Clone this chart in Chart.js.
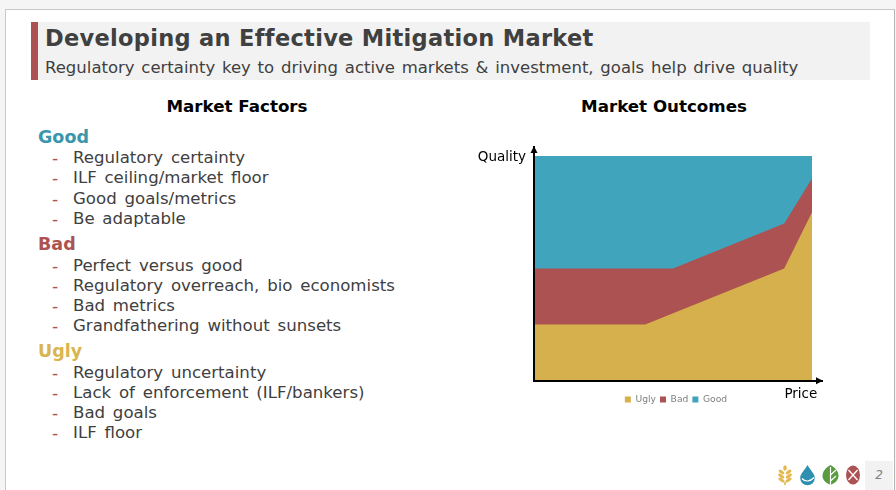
<!DOCTYPE html>
<html>
<head>
    <title>Developing an Effective Mitigation Market</title>
    <script src="https://cdn.jsdelivr.net/npm/chart.js"></script>
    <style>
        html, body {
            margin: 0;
            padding: 0;
            width: 896px;
            height: 490px;
            overflow: hidden;
            background: #f5f5f5;
            font-family: "DejaVu Sans", sans-serif;
        }
        #slide {
            position: absolute;
            left: 5px;
            top: 9px;
            width: 890px;
            height: 481px;
            background: #fff;
            border-left: 1px solid #c8c8c8;
            border-top: 1px solid #c8c8c8;
            border-right: 1px solid #b4b4b4;
            box-sizing: border-box;
        }
        .abs {
            position: absolute;
            white-space: nowrap;
        }
        #bar { left: 31px; top: 22px; width: 7px; height: 58px; background: #ad5252; }
        #band { left: 38px; top: 22px; width: 832px; height: 58px; background: #f2f2f2; }
        #title { left: 45px; top: 22px; font-size: 22.5px; line-height: 32px; font-weight: bold; color: #404040; letter-spacing: 0.3px; }
        #subtitle { left: 45px; top: 57px; font-size: 16.5px; line-height: 21px; color: #404040; word-spacing: 1.5px; }
        .head { font-size: 16.7px; line-height: 22px; font-weight: bold; color: #000; transform: translateX(-50%); }
        .group { left: 38px; font-size: 17.5px; line-height: 22px; font-weight: bold; }
        .item { left: 73px; font-size: 16.6px; line-height: 20px; color: #404040; word-spacing: 2.5px; }
        .dash { left: 52px; font-size: 17px; line-height: 20px; color: #ad5252; }
        #chartBox { left: 470px; top: 130px; width: 370px; height: 284px; }
        #pageBox { left: 865px; top: 461px; width: 28px; height: 29px; background: #f2f2f2; color: #808080; font-size: 12px; font-style: italic; line-height: 29px; text-align: center; }
    </style>
</head>
<body>
    <div id="slide"></div>
    <div class="abs" id="band"></div>
    <div class="abs" id="bar"></div>
    <div class="abs" id="title">Developing an Effective Mitigation Market</div>
    <div class="abs" id="subtitle">Regulatory certainty key to driving active markets &amp; investment, goals help drive quality</div>
    <div class="abs head" style="left:237px;top:95px">Market Factors</div>
    <div class="abs head" style="left:664px;top:95px">Market Outcomes</div>
    <div id="factors"></div>
    <div class="abs" id="chartBox"><canvas id="outcomes" width="370" height="284"></canvas></div>

    <svg class="abs" style="left:776px;top:464px" width="88" height="24" viewBox="0 0 88 24">
        <g fill="#e3b94f">
            <ellipse cx="9" cy="4" rx="1.8" ry="2.8"/>
            <ellipse cx="5.5" cy="8" rx="3.2" ry="1.6" transform="rotate(35 5.5 8)"/>
            <ellipse cx="12.5" cy="8" rx="3.2" ry="1.6" transform="rotate(-35 12.5 8)"/>
            <ellipse cx="5.2" cy="12" rx="3.5" ry="1.6" transform="rotate(35 5.2 12)"/>
            <ellipse cx="12.8" cy="12" rx="3.5" ry="1.6" transform="rotate(-35 12.8 12)"/>
            <ellipse cx="5.5" cy="16" rx="3.5" ry="1.6" transform="rotate(35 5.5 16)"/>
            <ellipse cx="12.5" cy="16" rx="3.5" ry="1.6" transform="rotate(-35 12.5 16)"/>
            <rect x="8.2" y="18" width="1.6" height="3"/>
        </g>
        <path d="M31.5 1 C34 6 38.8 9.5 38.8 14 A7.3 7.3 0 0 1 24.2 14 C24.2 9.5 29 6 31.5 1 Z" fill="#2f8fae"/>
        <path d="M26 14.5 C29 18 34 18 38 13.5" fill="none" stroke="#fff" stroke-width="1.2"/>
        <path d="M54.5 1 C60 4 62.5 8 62.5 12 C62.5 16.5 58 19.5 54.5 21 C51 19.5 46.5 16.5 46.5 12 C46.5 8 49 4 54.5 1 Z" fill="#5b9b3f"/>
        <path d="M54.5 3 V21 M54.5 11 L60 6 M54.5 17 L60 12" stroke="#fff" stroke-width="1.2" fill="none"/>
        <ellipse cx="77" cy="11" rx="7" ry="9.5" fill="#ad5252"/>
        <path d="M72.5 6 L81.5 16 M81.5 6 L72.5 16" stroke="#fff" stroke-width="1.3"/>
    </svg>
    <div class="abs" id="pageBox">2</div>

    <script>
        const goodItems = ['Regulatory certainty', 'ILF ceiling/market floor', 'Good goals/metrics', 'Be adaptable'];
        const badItems = ['Perfect versus good', 'Regulatory overreach, bio economists', 'Bad metrics', 'Grandfathering without sunsets'];
        const uglyItems = ['Regulatory uncertainty', 'Lack of enforcement (ILF/bankers)', 'Bad goals', 'ILF floor'];

        const seriesNames = ['Ugly', 'Bad', 'Good'];
        const uglyPrice = [0, 40, 90, 100];
        const uglyQuality = [25, 25, 50, 75];
        const badPrice = [0, 50, 90, 100];
        const badQuality = [50, 50, 70, 90];
        const goodPrice = [0, 100];
        const goodQuality = [100, 100];

        const factors = document.getElementById('factors');
        function addLine(cls, text, top, color) {
            const el = document.createElement('div');
            el.className = 'abs ' + cls;
            el.style.top = top + 'px';
            if (color) el.style.color = color;
            el.textContent = text;
            factors.appendChild(el);
        }
        function addGroup(name, color, top, items, offsets) {
            addLine('group', name, top - 11, color);
            items.forEach((item, i) => {
                addLine('dash', '-', top + offsets[i] - 10);
                addLine('item', item, top + offsets[i] - 10);
            });
        }
        addGroup('Good', '#3a96ab', 137, goodItems, [21, 41, 62, 82]);
        addGroup('Bad', '#ad5252', 244, badItems, [22, 42, 62, 82]);
        addGroup('Ugly', '#d9b44f', 351, uglyItems, [22, 42, 62, 82]);

        function toPoints(xs, ys) {
            return xs.map((x, i) => ({x: x, y: ys[i]}));
        }

        // arrow heads and axis names, placed from the scales
        const axisArrows = {
            id: 'axisArrows',
            afterDraw(chart) {
                const {ctx, chartArea, scales} = chart;
                ctx.save();
                ctx.fillStyle = '#000';
                ctx.beginPath();
                ctx.moveTo(chartArea.left, chartArea.top - 1);
                ctx.lineTo(chartArea.left - 3.5, chartArea.top + 6);
                ctx.lineTo(chartArea.left + 3.5, chartArea.top + 6);
                ctx.closePath();
                ctx.moveTo(chartArea.right + 1, chartArea.bottom);
                ctx.lineTo(chartArea.right - 6, chartArea.bottom - 3.5);
                ctx.lineTo(chartArea.right - 6, chartArea.bottom + 3.5);
                ctx.closePath();
                ctx.fill();
                ctx.font = '13.5px "DejaVu Sans"';
                ctx.textBaseline = 'middle';
                ctx.textAlign = 'right';
                ctx.fillText('Quality', chartArea.left - 8, scales.y.getPixelForValue(100) + 2);
                ctx.textAlign = 'center';
                ctx.fillText('Price', scales.x.getPixelForValue(96), chartArea.bottom + 14);
                ctx.restore();
            }
        };

        new Chart(document.getElementById('outcomes'), {
            type: 'line',
            data: {
                datasets: [
                    {label: seriesNames[0], data: toPoints(uglyPrice, uglyQuality), backgroundColor: '#d6b04c', borderColor: '#d6b04c'},
                    {label: seriesNames[1], data: toPoints(badPrice, badQuality), backgroundColor: '#ad5252', borderColor: '#ad5252'},
                    {label: seriesNames[2], data: toPoints(goodPrice, goodQuality), backgroundColor: '#40a4bc', borderColor: '#40a4bc'}
                ].map(d => Object.assign(d, {fill: 'origin', borderWidth: 0, pointRadius: 0, tension: 0}))
            },
            options: {
                responsive: false,
                animation: false,
                layout: {padding: {top: 17, right: 18, bottom: 0, left: 60}},
                plugins: {
                    tooltip: {enabled: false},
                    legend: {
                        position: 'bottom',
                        labels: {boxWidth: 6, boxHeight: 6, padding: 4, color: '#7f7f7f', font: {family: 'DejaVu Sans', size: 9.2}}
                    }
                },
                scales: {
                    x: {
                        type: 'linear',
                        min: 0,
                        max: 103.6,
                        afterFit(scale) { scale.height = 10; },
                        grid: {display: false},
                        border: {color: '#000', width: 2, z: 1},
                        ticks: {display: false}
                    },
                    y: {
                        min: 0,
                        max: 104,
                        afterFit(scale) { scale.width = 4; },
                        grid: {display: false},
                        border: {color: '#000', width: 2, z: 1},
                        ticks: {display: false}
                    }
                }
            },
            plugins: [axisArrows]
        });
    </script>
</body>
</html>
